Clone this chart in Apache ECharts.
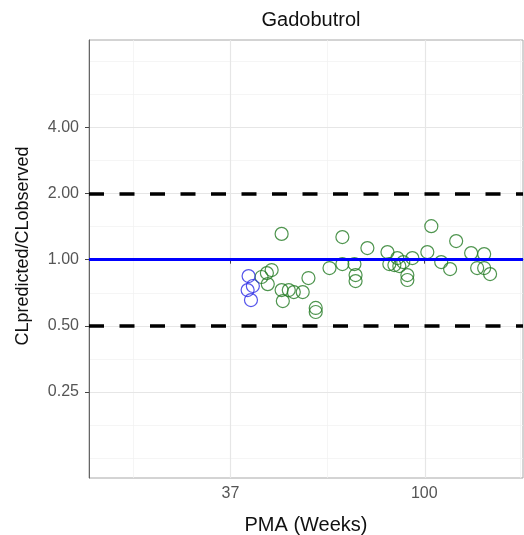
<!DOCTYPE html>
<html>
<head>
<meta charset="utf-8">
<script src="https://cdn.jsdelivr.net/npm/echarts@6/dist/echarts.min.js"></script>
<style>
  html, body { margin: 0; padding: 0; background: #fff; }
  #chart-panel { width: 524px; height: 535px; }
</style>
</head>
<body>
<div id="chart-panel"></div>
<script>
// values (PMA in weeks, ratio CLpredicted/CLobserved)
const pmaTicks = [37, 100]
const ratioTicks = [0.25, 0.5, 1, 2, 4]
const xLimits = [17.9, 166]
const yLimits = [0.1016, 9.98]
const refDashed = [0.5, 2]
const refSolid = [1]

const bluePma = [40.6, 41.5, 40.4, 41.1]
const blueRatio = [0.842, 0.759, 0.727, 0.655]

const greenPma = [43.4, 44.6, 45.7, 44.8, 48.1, 48.1, 48.4, 49.9, 51.2, 53.6,
  55.2, 57.3, 57.3, 61.5, 65.7, 65.7, 69.9, 70.3, 70.3, 74.7,
  82.8, 83.6, 85.8, 87.1, 88.0, 89.8, 91.7, 91.7, 94.1, 101.6,
  103.7, 109.1, 114.2, 117.8, 127.2, 131.2, 136.0, 136.0, 140.2]
const greenRatio = [0.834, 0.869, 0.897, 0.774, 1.31, 0.727, 0.648, 0.727, 0.712, 0.712,
  0.825, 0.603, 0.578, 0.916, 1.267, 0.955, 0.955, 0.851, 0.799, 1.129,
  1.083, 0.955, 0.945, 1.017, 0.935, 0.975, 0.851, 0.808, 1.017, 1.083,
  1.42, 0.975, 0.906, 1.215, 1.071, 0.916, 1.06, 0.916, 0.86]

// both axes are log scaled: x natural log, y log2
const lx = v => Math.log(v)
const ly = v => Math.log2(v)

// ggplot style minor breaks: midpoints between majors, majors extended one step each side
const minorBreaks = (majors, lo, hi) => {
  const step = majors[1] - majors[0]
  const b = [majors[0] - step, ...majors, majors[majors.length - 1] + step]
  const out = []
  for (let i = 0; i < b.length - 1; i++) {
    out.push(b[i], (b[i] + b[i + 1]) / 2)
  }
  out.push(b[b.length - 1])
  return out.filter(v => v >= lo && v <= hi && !majors.some(m => Math.abs(m - v) < 1e-9))
}

const xMajor = pmaTicks.map(lx)
const yMajor = ratioTicks.map(ly)
const xMin = lx(xLimits[0]), xMax = lx(xLimits[1])
const yMin = ly(yLimits[0]), yMax = ly(yLimits[1])
const xMinor = minorBreaks(xMajor, xMin, xMax)
const yMinor = minorBreaks(yMajor, yMin, yMax)

const toPoints = (xs, ys) => xs.map((x, i) => [lx(x), ly(ys[i])])

const chart = echarts.init(document.getElementById('chart-panel'), null, { renderer: 'canvas' })

const gridLine = (axis, v, width, color) => ({
  [axis]: v,
  lineStyle: { color: color, width: width, type: 'solid' }
})

const options = {
  animation: false,
  backgroundColor: '#fff',
  textStyle: { fontFamily: 'Liberation Sans, Arial, sans-serif' },
  title: {
    text: 'Gadobutrol',
    left: 306,
    top: 5,
    textAlign: 'center',
    textStyle: { fontSize: 20, fontWeight: 'normal', color: '#111' }
  },
  grid: {
    left: 89,
    right: 1,
    top: 40,
    bottom: 57,
    containLabel: false,
    outerBoundsMode: 'none',
    show: true,
    borderColor: '#a8a8a8',
    borderWidth: 1,
    backgroundColor: '#fff'
  },
  xAxis: {
    type: 'value',
    min: xMin,
    max: xMax,
    name: 'PMA (Weeks)',
    nameLocation: 'middle',
    nameGap: 37,
    nameTextStyle: { fontSize: 20, color: '#111' },
    axisLine: { show: true, lineStyle: { color: '#666', width: 1 } },
    axisTick: { show: true, length: 4, customValues: xMajor, lineStyle: { color: '#444' } },
    axisLabel: {
      customValues: xMajor,
      margin: 8,
      fontSize: 16,
      color: '#555',
      formatter: v => String(Math.round(Math.exp(v)))
    },
    splitLine: { show: false }
  },
  yAxis: {
    type: 'value',
    min: yMin,
    max: yMax,
    name: 'CLpredicted/CLobserved',
    nameLocation: 'middle',
    nameGap: 57,
    nameTextStyle: { fontSize: 18, color: '#111', padding: [0, 0, 0, 26] },
    axisLine: { show: true, lineStyle: { color: '#666', width: 1 } },
    axisTick: { show: true, length: 4, customValues: yMajor, lineStyle: { color: '#444' } },
    axisLabel: {
      customValues: yMajor,
      margin: 10,
      fontSize: 16,
      color: '#555',
      formatter: v => Math.pow(2, v).toFixed(2)
    },
    splitLine: { show: false }
  },
  series: [
    {
      name: 'grid',
      type: 'line',
      data: [],
      z: 0,
      silent: true,
      markLine: {
        z: 0,
        silent: true,
        symbol: 'none',
        label: { show: false },
        animation: false,
        data: [
          ...xMinor.map(v => gridLine('xAxis', v, 0.7, '#f0f0f0')),
          ...yMinor.map(v => gridLine('yAxis', v, 0.7, '#f0f0f0')),
          ...xMajor.map(v => gridLine('xAxis', v, 1.2, '#e6e6e6')),
          ...yMajor.map(v => gridLine('yAxis', v, 1.2, '#e6e6e6'))
        ]
      }
    },
    {
      name: 'green',
      type: 'scatter',
      z: 3,
      symbol: 'circle',
      symbolSize: 13,
      itemStyle: { color: 'transparent', borderColor: '#237a23', borderWidth: 1.2 },
      data: toPoints(greenPma, greenRatio)
    },
    {
      name: 'blue',
      type: 'scatter',
      z: 3,
      symbol: 'circle',
      symbolSize: 13,
      itemStyle: { color: 'transparent', borderColor: '#2a2ae6', borderWidth: 1.2 },
      data: toPoints(bluePma, blueRatio)
    },
    {
      name: 'ref',
      type: 'line',
      data: [],
      z: 4,
      silent: true,
      markLine: {
        z: 4,
        silent: true,
        symbol: 'none',
        label: { show: false },
        animation: false,
        data: [
          ...refDashed.map(v => ({
            yAxis: ly(v),
            lineStyle: { color: '#000', width: 3.5, type: [15, 15.5] }
          })),
          ...refSolid.map(v => ({
            yAxis: ly(v),
            lineStyle: { color: '#0000ff', width: 3, type: 'solid' }
          }))
        ]
      }
    }
  ]
}
chart.setOption(options)
</script>
</body>
</html>
